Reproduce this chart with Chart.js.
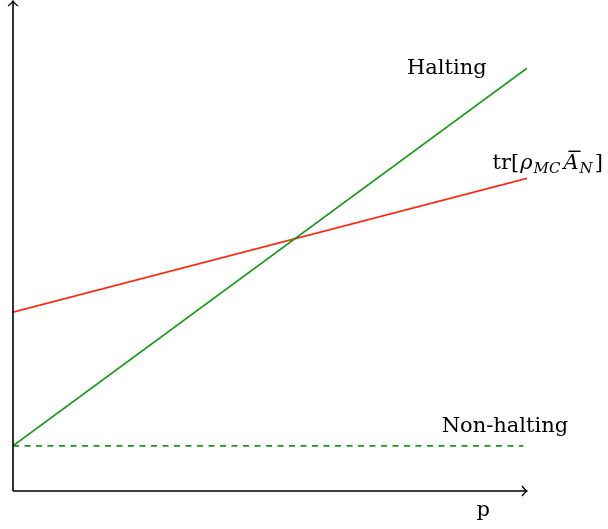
<!DOCTYPE html>
<html>
<head>
<meta charset="utf-8">
<script src="https://cdn.jsdelivr.net/npm/chart.js@4.4.0/dist/chart.umd.min.js"></script>
<style>
  html, body { margin: 0; padding: 0; background: #fff; }
  #wrap { width: 608px; height: 529px; }
</style>
</head>
<body>
<div id="wrap"><canvas id="c"></canvas></div>
<script>
// x runs 0..10 (p), y runs 0..10
var pValues = [0, 10];
var haltingValues = [0.92, 8.63];
var traceValues = [3.65, 6.38];
var nonHaltingX = [0, 9.93];
var nonHaltingValues = [0.92, 0.92];

var serif = '"DejaVu Serif", "Liberation Serif", serif';

function pts(xs, ys) {
  var out = [];
  for (var i = 0; i < xs.length; i++) out.push({x: xs[i], y: ys[i]});
  return out;
}

var axesPlugin = {
  id: 'axesPlugin',
  afterDraw: function(chart) {
    var ctx = chart.ctx;
    var xs = chart.scales.x, ys = chart.scales.y;
    var x0 = xs.getPixelForValue(0), y0 = ys.getPixelForValue(0);
    var xEnd = xs.getPixelForValue(10), yEnd = ys.getPixelForValue(10);
    ctx.save();
    ctx.strokeStyle = '#000';
    ctx.lineWidth = 1.6;
    ctx.beginPath();
    ctx.moveTo(x0, y0);
    ctx.lineTo(xEnd, y0);
    ctx.moveTo(x0, y0);
    ctx.lineTo(x0, yEnd);
    ctx.stroke();
    // arrow heads
    ctx.lineWidth = 1.3;
    ctx.beginPath();
    ctx.moveTo(xEnd - 5, y0 - 5);
    ctx.quadraticCurveTo(xEnd - 2, y0 - 1, xEnd, y0);
    ctx.quadraticCurveTo(xEnd - 2, y0 + 1, xEnd - 5, y0 + 5);
    ctx.moveTo(x0 - 5, yEnd + 5);
    ctx.quadraticCurveTo(x0 - 1, yEnd + 2, x0, yEnd);
    ctx.quadraticCurveTo(x0 + 1, yEnd + 2, x0 + 5, yEnd + 5);
    ctx.stroke();

    ctx.fillStyle = '#000';
    ctx.textBaseline = 'alphabetic';
    ctx.font = '21px ' + serif;
    ctx.textAlign = 'center';
    ctx.fillText('Halting', xs.getPixelForValue(8.44), ys.getPixelForValue(8.52));
    ctx.fillText('Non-halting', xs.getPixelForValue(9.57), ys.getPixelForValue(1.2));
    ctx.fillText('p', xs.getPixelForValue(9.15), ys.getPixelForValue(-0.5));

    // tr[ρ_MC Ā_N]
    var x = xs.getPixelForValue(9.33), y = ys.getPixelForValue(6.58);
    ctx.textAlign = 'left';
    ctx.font = '21px ' + serif;
    ctx.fillText('tr[', x, y); x += ctx.measureText('tr[').width + 1;
    ctx.font = 'italic 21px ' + serif;
    ctx.fillText('\u03C1', x, y); x += ctx.measureText('\u03C1').width + 1;
    ctx.font = 'italic 15px ' + serif;
    ctx.fillText('MC', x, y + 4); x += ctx.measureText('MC').width + 3;
    ctx.font = 'italic 21px ' + serif;
    var aw = ctx.measureText('A').width;
    ctx.fillText('A', x, y);
    ctx.fillRect(x + 5, y - 18, aw - 3, 1.4);
    x += aw + 1;
    ctx.font = 'italic 15px ' + serif;
    ctx.fillText('N', x, y + 4); x += ctx.measureText('N').width + 2;
    ctx.font = '21px ' + serif;
    ctx.fillText(']', x, y);
    ctx.restore();
  }
};

new Chart(document.getElementById('c'), {
  type: 'scatter',
  data: {
    datasets: [
      {
        label: 'Halting',
        data: pts(pValues, haltingValues),
        showLine: true,
        borderColor: '#1a9a1a',
        borderWidth: 1.7,
        pointRadius: 0
      },
      {
        label: 'tr',
        data: pts(pValues, traceValues),
        showLine: true,
        borderColor: '#ff2a0e',
        borderWidth: 1.7,
        pointRadius: 0
      },
      {
        label: 'Non-halting',
        data: pts(nonHaltingX, nonHaltingValues),
        showLine: true,
        borderColor: '#1a9a1a',
        borderWidth: 1.7,
        borderDash: [6, 5.5],
        pointRadius: 0
      }
    ]
  },
  options: {
    responsive: true,
    maintainAspectRatio: false,
    animation: false,
    layout: { padding: { left: 13, right: 81, top: 1, bottom: 38 } },
    plugins: { legend: { display: false }, tooltip: { enabled: false } },
    scales: {
      x: { type: 'linear', min: 0, max: 10, display: false },
      y: { type: 'linear', min: 0, max: 10, display: false }
    }
  },
  plugins: [axesPlugin]
});
</script>
</body>
</html>
